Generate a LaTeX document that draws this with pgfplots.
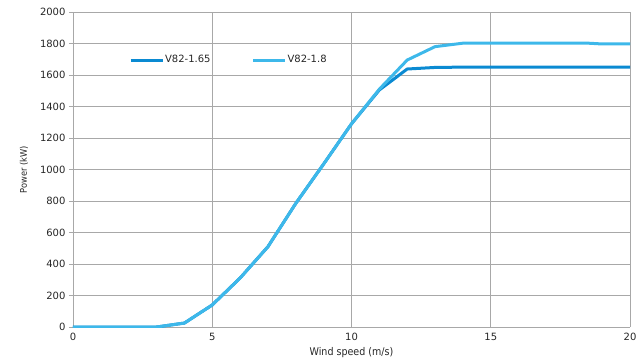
\documentclass[border=0pt]{standalone}
\usepackage{fontspec}
\setmainfont{DejaVu Sans}
\newfontfamily\condfont{DejaVu Sans Condensed}
\usepackage{pgfplots}
\pgfplotsset{compat=1.18}
\definecolor{darkb}{HTML}{0A8AD2}
\definecolor{lightb}{HTML}{3DB8EA}
\definecolor{gridc}{HTML}{A8A8A8}
\begin{document}
\begin{tikzpicture}
\begin{axis}[
  name=ax,
  scale only axis,
  width=557pt, height=315pt,
  xmin=0, xmax=20, ymin=0, ymax=2000,
  xtick={0,5,10,15,20},
  ytick={0,200,400,600,800,1000,1200,1400,1600,1800,2000},
  /pgf/number format/assume math mode=true,
  /pgf/number format/1000 sep={},
  ticklabel style={font=\fontsize{10}{12}\selectfont, text=black!85},
  xticklabel style={yshift=-3pt},
  xmajorgrids, ymajorgrids,
  grid style={gridc, line width=0.8pt},
  axis x line*=bottom, axis y line*=left,
  axis line style={gridc, line width=0.8pt},
  major tick length=4pt,
  tick style={gridc, line width=0.8pt},
  xtick style={draw=none},
  ytick align=outside,
  xlabel={\condfont Wind speed (m/s)},
  ylabel={\condfont Power (kW)},
  xlabel style={font=\fontsize{10.6}{12}\selectfont, text=black!85, yshift=1pt},
  ylabel style={font=\fontsize{9.2}{11}\selectfont, text=black!85, yshift=5pt},
  legend style={draw=none, fill=none, at={(axis cs:1.9,1695)}, anchor=west,
    font=\fontsize{10}{12}\selectfont, text=black!85,
    /tikz/every even column/.append style={column sep=40pt}},
  legend columns=2,
  legend cell align=left,
  legend image code/.code={\draw[#1, line width=3pt] (0pt,0pt) -- (32pt,0pt);},
  legend style={nodes={inner xsep=1pt}},
]
\addplot[darkb, line width=3pt, line join=round] coordinates {
(0,0) (1,0) (2,0) (3,0) (4,25) (5,140) (6,311) (7,510) (8,785) (9,1035) (10,1290) (11,1505) (12,1638) (13,1648) (14,1650) (15,1650) (16,1650) (17,1650) (18,1650) (19,1650) (20,1650)
};
\addlegendentry{V82-1.65}
\addplot[lightb, line width=3pt, line join=round] coordinates {
(0,0) (1,0) (2,0) (3,0) (4,25) (5,140) (6,311) (7,510) (8,785) (9,1035) (10,1290) (11,1510) (12,1695) (13,1780) (14,1802) (15,1802) (16,1802) (17,1802) (18,1802) (18.5,1802) (19,1797) (20,1797)
};
\addlegendentry{V82-1.8}
\end{axis}
\pgfresetboundingbox
\path ([xshift=-73pt,yshift=-35pt]ax.south west) rectangle ([xshift=14pt,yshift=12pt]ax.north east);
\end{tikzpicture}
\end{document}
